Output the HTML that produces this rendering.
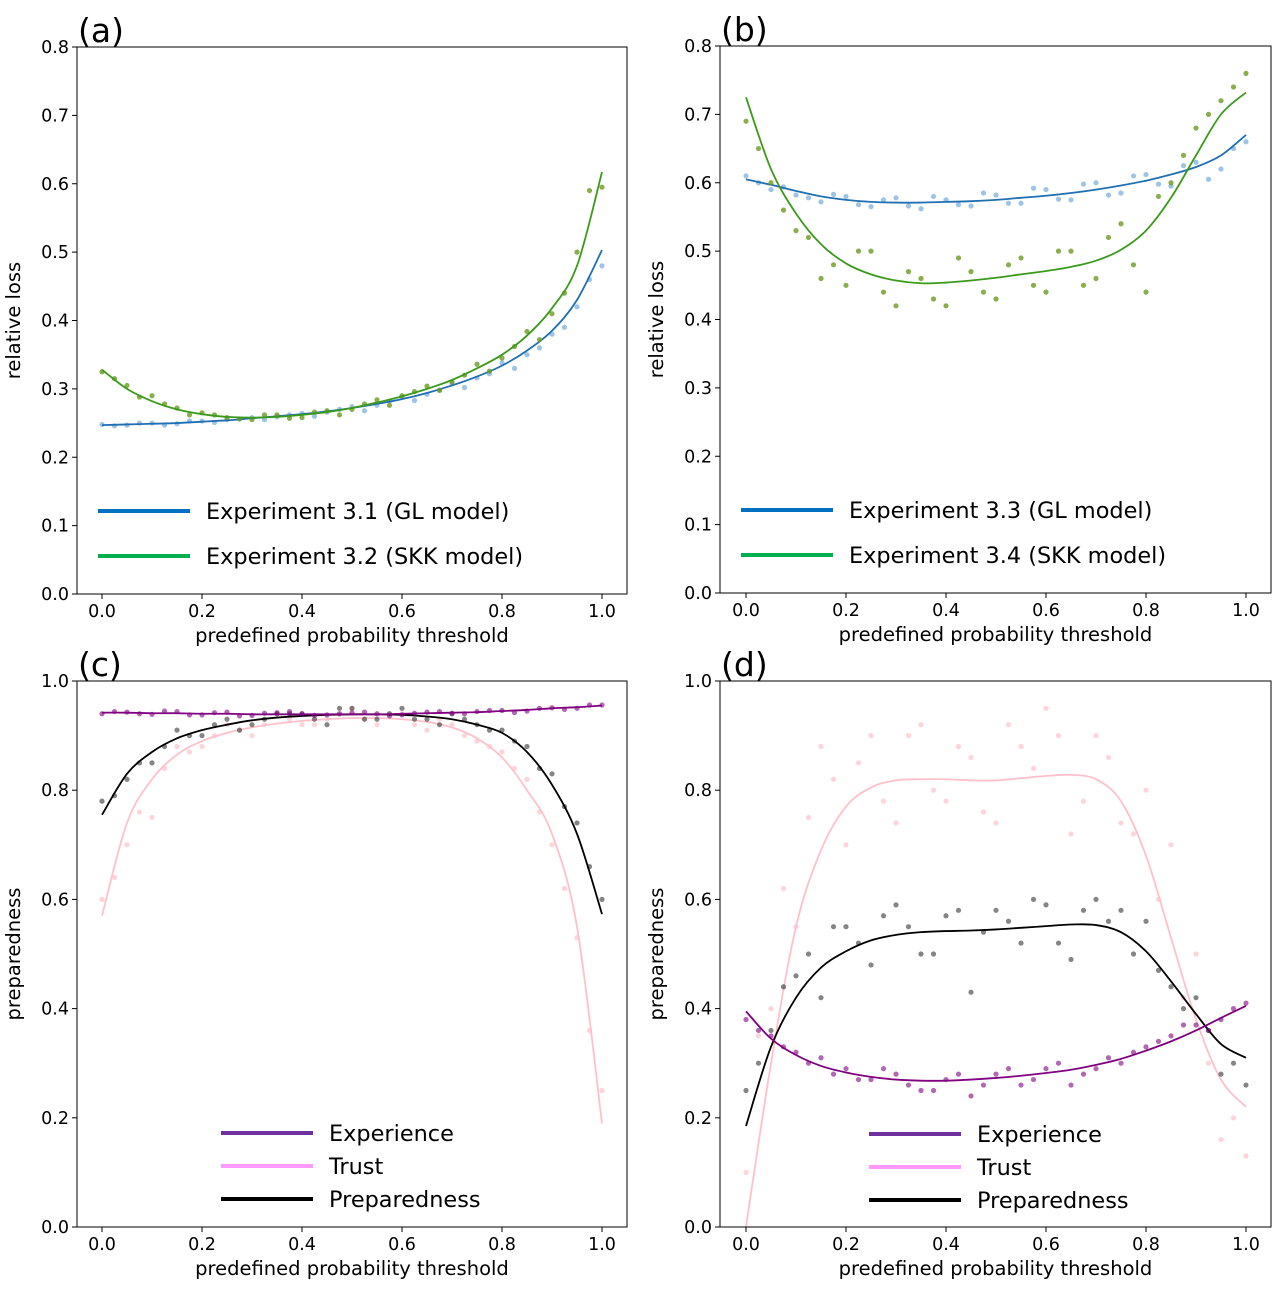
<!DOCTYPE html>
<html><head><meta charset="utf-8"><style>
body{margin:0;background:#fff;}
svg{display:block;font-family:"DejaVu Sans","Liberation Sans",sans-serif;}
</style></head><body>
<svg id="fig" width="1284" height="1292" viewBox="0 0 1284 1292" xmlns="http://www.w3.org/2000/svg"></svg>
<script>
const xs=[0,0.05,0.1,0.15,0.2,0.25,0.3,0.35,0.4,0.45,0.5,0.55,0.6,0.65,0.7,0.75,0.8,0.85,0.9,0.95,1.0];
const sx=[0.025,0.075,0.125,0.175,0.225,0.275,0.325,0.375,0.425,0.475,0.525,0.575,0.625,0.675,0.725,0.775,0.825,0.875,0.925,0.975];
const xTicks=["0.0","0.2","0.4","0.6","0.8","1.0"];
const yTicksAB=["0.0","0.1","0.2","0.3","0.4","0.5","0.6","0.7","0.8"];
const yTicksCD=["0.0","0.2","0.4","0.6","0.8","1.0"];
// (a)
const aBlue=[0.247,0.248,0.249,0.250,0.252,0.254,0.257,0.260,0.263,0.267,0.272,0.278,0.285,0.294,0.305,0.318,0.334,0.356,0.385,0.43,0.503];
const aGreen=[0.328,0.300,0.282,0.270,0.263,0.259,0.258,0.259,0.262,0.266,0.272,0.280,0.289,0.300,0.313,0.330,0.350,0.378,0.418,0.48,0.617];
const aBlueS=[0.246,0.250,0.247,0.253,0.251,0.256,0.255,0.262,0.260,0.270,0.268,0.282,0.283,0.298,0.302,0.322,0.330,0.360,0.39,0.46];
const aGreenS=[0.315,0.288,0.278,0.262,0.262,0.256,0.262,0.257,0.266,0.262,0.278,0.276,0.296,0.298,0.320,0.326,0.362,0.372,0.44,0.59];
const aBlueS2=[0.248,0.247,0.250,0.249,0.253,0.255,0.258,0.259,0.264,0.266,0.274,0.276,0.288,0.292,0.308,0.316,0.338,0.350,0.38,0.42,0.48];
const aGreenS2=[0.325,0.305,0.290,0.272,0.265,0.258,0.255,0.262,0.258,0.268,0.270,0.284,0.290,0.304,0.310,0.336,0.345,0.384,0.41,0.50,0.595];
// (b)
const bBlue=[0.605,0.597,0.588,0.580,0.575,0.572,0.571,0.571,0.572,0.573,0.575,0.578,0.581,0.585,0.590,0.596,0.603,0.612,0.623,0.640,0.670];
const bGreen=[0.725,0.62,0.555,0.510,0.482,0.466,0.457,0.453,0.454,0.457,0.461,0.466,0.471,0.477,0.486,0.502,0.530,0.578,0.640,0.700,0.732];
const bBlueS=[0.600,0.594,0.578,0.583,0.568,0.575,0.566,0.580,0.568,0.585,0.570,0.592,0.576,0.598,0.582,0.610,0.598,0.625,0.605,0.650];
const bGreenS=[0.650,0.560,0.520,0.480,0.500,0.440,0.470,0.430,0.490,0.440,0.480,0.450,0.500,0.450,0.520,0.480,0.580,0.640,0.700,0.740];
const bBlueS2=[0.610,0.590,0.582,0.572,0.580,0.565,0.578,0.562,0.575,0.566,0.582,0.570,0.590,0.575,0.600,0.585,0.612,0.595,0.63,0.62,0.66];
const bGreenS2=[0.690,0.600,0.530,0.460,0.450,0.500,0.420,0.460,0.420,0.470,0.430,0.490,0.440,0.500,0.460,0.540,0.440,0.600,0.680,0.720,0.760];
// (c)
const cExp=[0.942,0.942,0.941,0.941,0.940,0.940,0.939,0.939,0.939,0.939,0.939,0.939,0.940,0.941,0.942,0.943,0.945,0.947,0.950,0.952,0.955];
const cTrust=[0.57,0.74,0.82,0.865,0.89,0.905,0.915,0.922,0.927,0.93,0.932,0.932,0.93,0.925,0.915,0.895,0.86,0.80,0.72,0.55,0.19];
const cPrep=[0.755,0.83,0.87,0.895,0.91,0.92,0.928,0.933,0.936,0.938,0.939,0.939,0.938,0.935,0.93,0.92,0.905,0.87,0.81,0.72,0.573];
const cExpS=[0.944,0.940,0.945,0.938,0.942,0.936,0.941,0.944,0.937,0.940,0.943,0.936,0.941,0.944,0.940,0.946,0.942,0.950,0.948,0.956];
const cTrustS=[0.64,0.76,0.84,0.87,0.90,0.91,0.92,0.93,0.92,0.94,0.93,0.94,0.92,0.93,0.90,0.88,0.84,0.76,0.62,0.36];
const cPrepS=[0.79,0.85,0.88,0.90,0.92,0.91,0.93,0.94,0.93,0.95,0.93,0.94,0.93,0.92,0.93,0.91,0.89,0.84,0.77,0.66];
const cExpS2=[0.940,0.943,0.939,0.944,0.938,0.943,0.937,0.942,0.940,0.938,0.942,0.940,0.938,0.943,0.941,0.944,0.946,0.945,0.951,0.950,0.956];
const cTrustS2=[0.60,0.70,0.75,0.88,0.88,0.92,0.90,0.94,0.92,0.93,0.95,0.92,0.94,0.91,0.92,0.89,0.87,0.82,0.70,0.53,0.25];
const cPrepS2=[0.78,0.82,0.85,0.91,0.90,0.93,0.92,0.94,0.94,0.92,0.95,0.93,0.95,0.93,0.94,0.92,0.91,0.88,0.83,0.74,0.60];
// (d)
const dExp=[0.395,0.345,0.315,0.295,0.283,0.275,0.27,0.268,0.268,0.27,0.273,0.277,0.282,0.288,0.297,0.308,0.323,0.340,0.36,0.383,0.405];
const dTrust=[0.0,0.3,0.55,0.69,0.77,0.805,0.818,0.82,0.82,0.818,0.818,0.822,0.826,0.828,0.82,0.78,0.68,0.53,0.38,0.27,0.22];
const dPrep=[0.185,0.33,0.42,0.475,0.505,0.525,0.535,0.54,0.542,0.543,0.545,0.548,0.551,0.554,0.553,0.54,0.505,0.45,0.39,0.335,0.31];
const dExpS=[0.36,0.33,0.30,0.28,0.27,0.29,0.26,0.25,0.28,0.26,0.29,0.27,0.30,0.28,0.31,0.32,0.34,0.37,0.36,0.40];
const dTrustS=[0.35,0.62,0.75,0.82,0.85,0.78,0.90,0.80,0.88,0.76,0.92,0.84,0.90,0.78,0.86,0.72,0.60,0.42,0.30,0.20];
const dPrepS=[0.30,0.44,0.50,0.55,0.52,0.57,0.55,0.50,0.58,0.54,0.56,0.60,0.52,0.58,0.56,0.50,0.47,0.40,0.36,0.30];
const dExpS2=[0.38,0.35,0.32,0.31,0.29,0.27,0.28,0.25,0.27,0.24,0.28,0.26,0.29,0.26,0.29,0.30,0.33,0.35,0.37,0.38,0.41];
const dTrustS2=[0.10,0.40,0.55,0.88,0.70,0.90,0.74,0.92,0.78,0.86,0.74,0.88,0.95,0.72,0.90,0.74,0.80,0.70,0.50,0.16,0.13];
const dPrepS2=[0.25,0.36,0.46,0.42,0.55,0.48,0.59,0.50,0.57,0.43,0.58,0.52,0.59,0.49,0.60,0.58,0.56,0.44,0.42,0.28,0.26];

const NS="http://www.w3.org/2000/svg";
const svg=document.getElementById('fig');
function mk(tag,attrs,parent){const e=document.createElementNS(NS,tag);for(const k in attrs)e.setAttribute(k,attrs[k]);(parent||svg).appendChild(e);return e;}
function smooth(pts){let d="M"+pts[0][0]+","+pts[0][1];for(let i=0;i<pts.length-1;i++){const p0=pts[Math.max(0,i-1)],p1=pts[i],p2=pts[i+1],p3=pts[Math.min(pts.length-1,i+2)];const c1x=p1[0]+(p2[0]-p0[0])/6,c1y=p1[1]+(p2[1]-p0[1])/6,c2x=p2[0]-(p3[0]-p1[0])/6,c2y=p2[1]-(p3[1]-p1[1])/6;d+=` C${c1x},${c1y} ${c2x},${c2y} ${p2[0]},${p2[1]}`;}return d;}

function panel(o){
  const g=mk('g',{});
  
  
  const X=v=>o.x0+(o.x1-o.x0)*v;
  const Y=v=>o.yb-(o.yb-o.yt)*(v/o.ymax);
  o.series.forEach(s=>{
    const sg=mk('g',{},g);
    
    
    s.sc.forEach((v,i)=>{mk('circle',{cx:X(sx[i]),cy:Y(v),r:2.6,fill:s.sColor,'fill-opacity':s.sOp},sg);});
    s.sc2.forEach((v,i)=>{mk('circle',{cx:X(xs[i]),cy:Y(v),r:2.6,fill:s.sColor,'fill-opacity':s.sOp},sg);});
    const p=mk('path',{d:smooth(s.curve.map((v,i)=>[X(xs[i]),Y(v)])),fill:'none',stroke:s.color,'stroke-width':1.8},g);
    
    
  });
  const box=mk('rect',{x:o.L,y:o.yt,width:o.R-o.L,height:o.yb-o.yt,fill:'none',stroke:'#000','stroke-width':1},g);
  
  
  xTicks.forEach((t,i)=>{const v=i*0.2;mk('line',{x1:X(v),x2:X(v),y1:o.yb,y2:o.yb+5,stroke:'#000'},g);
    const tx=mk('text',{x:X(v),y:o.yb+23,'font-size':17.5,'text-anchor':'middle'},g);tx.textContent=t;
    });
  o.yTicks.forEach(t=>{const v=parseFloat(t);mk('line',{x1:o.L-5,x2:o.L,y1:Y(v),y2:Y(v),stroke:'#000'},g);
    const tx=mk('text',{x:o.L-8,y:Y(v)+6,'font-size':17.5,'text-anchor':'end'},g);tx.textContent=t;
    });
  const xl=mk('text',{x:(o.L+o.R)/2,y:o.yb+48,'font-size':19.5,'text-anchor':'middle'},g);xl.textContent='predefined probability threshold';
  
  const yl=mk('text',{x:0,y:0,'font-size':19.5,'text-anchor':'middle',transform:`translate(${o.L-57},${(o.yt+o.yb)/2}) rotate(-90)`},g);yl.textContent=o.ylab;
  
  const lt=mk('text',{x:o.L+1,y:o.yt-5,'font-size':33},g);lt.textContent=o.letter;
  
  o.legend.forEach(e=>{const lg=mk('g',{},g);
    
    mk('line',{x1:e[0],x2:e[0]+92,y1:e[1],y2:e[1],stroke:e[2],'stroke-width':4},lg);
    const t=mk('text',{x:e[0]+108,y:e[1]+8,'font-size':22.4},lg);t.textContent=e[3];});
}
const blueS={sColor:'#5b9bd5',sOp:0.6,color:'#1f6fb4'};
const greenS={sColor:'#6b9a1f',sOp:0.8,color:'#3a9a1a'};
panel({name:'panel-a',letter:'(a)',L:77,R:627,x0:102,x1:602,yt:47,yb:594,ymax:0.8,yTicks:yTicksAB,ylab:'relative loss',
  series:[Object.assign({name:'gl-model',curve:aBlue,sc:aBlueS,sc2:aBlueS2},blueS),Object.assign({name:'skk-model',curve:aGreen,sc:aGreenS,sc2:aGreenS2},greenS)],
  legend:[[98,511,'#0070c0','Experiment 3.1 (GL model)'],[98,556,'#00b050','Experiment 3.2 (SKK model)']]});
panel({name:'panel-b',letter:'(b)',L:720,R:1271,x0:746,x1:1246,yt:46,yb:593,ymax:0.8,yTicks:yTicksAB,ylab:'relative loss',
  series:[Object.assign({name:'gl-model',curve:bBlue,sc:bBlueS,sc2:bBlueS2},blueS),Object.assign({name:'skk-model',curve:bGreen,sc:bGreenS,sc2:bGreenS2},greenS)],
  legend:[[741,510,'#0070c0','Experiment 3.3 (GL model)'],[741,555,'#00b050','Experiment 3.4 (SKK model)']]});
const pinkS={sColor:'#ffb6c1',sOp:0.6,color:'#ffc0cb'};
const blackS={sColor:'#333',sOp:0.6,color:'#000'};
const purpS={sColor:'#800080',sOp:0.6,color:'#800080'};
panel({name:'panel-c',letter:'(c)',L:77,R:627,x0:102,x1:602,yt:681,yb:1227,ymax:1.0,yTicks:yTicksCD,ylab:'preparedness',
  series:[Object.assign({name:'trust',curve:cTrust,sc:cTrustS,sc2:cTrustS2},pinkS),Object.assign({name:'preparedness',curve:cPrep,sc:cPrepS,sc2:cPrepS2},blackS),Object.assign({name:'experience',curve:cExp,sc:cExpS,sc2:cExpS2},purpS)],
  legend:[[221,1133,'#7030a0','Experience'],[221,1166,'#ff99ff','Trust'],[221,1199,'#000','Preparedness']]});
panel({name:'panel-d',letter:'(d)',L:720,R:1271,x0:746,x1:1246,yt:681,yb:1227,ymax:1.0,yTicks:yTicksCD,ylab:'preparedness',
  series:[Object.assign({name:'trust',curve:dTrust,sc:dTrustS,sc2:dTrustS2},pinkS),Object.assign({name:'preparedness',curve:dPrep,sc:dPrepS,sc2:dPrepS2},blackS),Object.assign({name:'experience',curve:dExp,sc:dExpS,sc2:dExpS2},purpS)],
  legend:[[869,1134,'#7030a0','Experience'],[869,1167,'#ff99ff','Trust'],[869,1200,'#000','Preparedness']]});
</script>
</body></html>
